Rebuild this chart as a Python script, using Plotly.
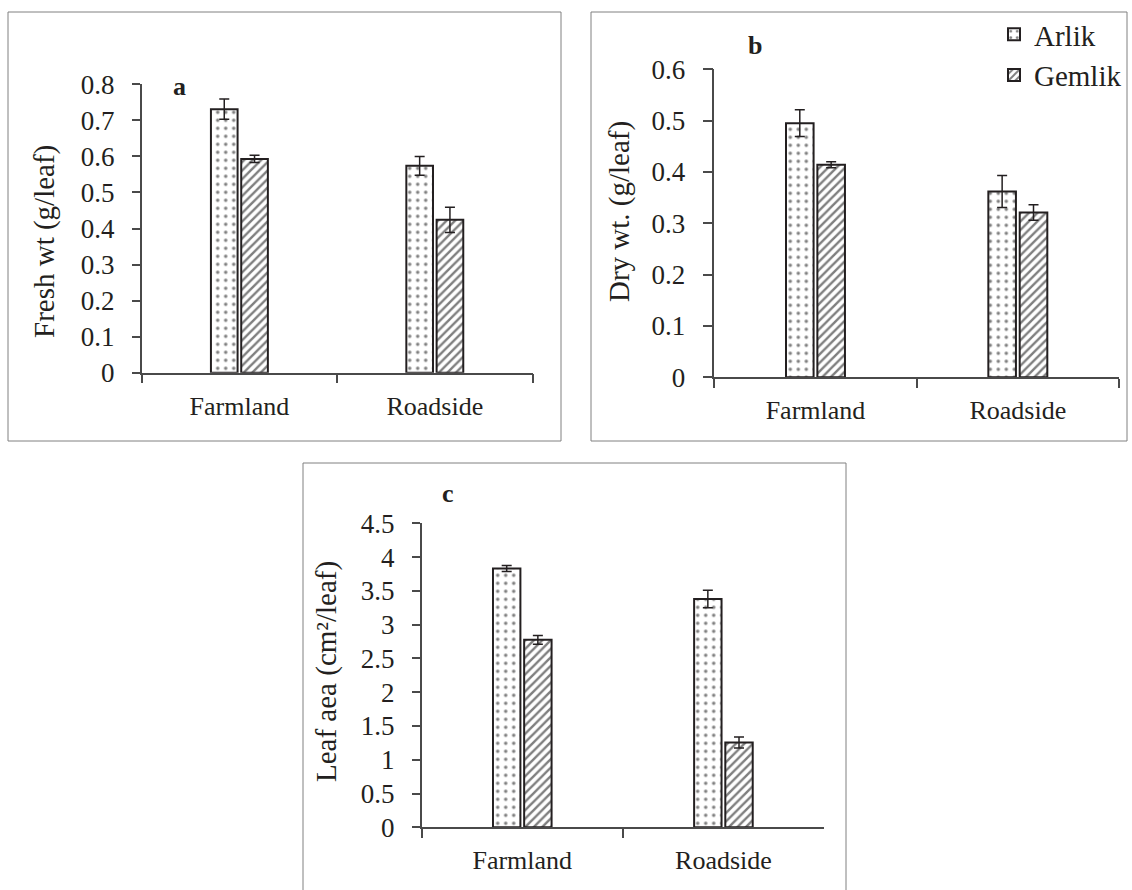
import plotly.graph_objects as go

W, H = 1132, 890

categories = ["Farmland", "Roadside"]
series_names = ["Arlik", "Gemlik"]

# Panel a: fresh weight (g/leaf)
fresh_arlik = [0.731, 0.574]
fresh_arlik_err = [0.028, 0.026]
fresh_gemlik = [0.593, 0.424]
fresh_gemlik_err = [0.010, 0.035]

# Panel b: dry weight (g/leaf)
dry_arlik = [0.495, 0.362]
dry_arlik_err = [0.026, 0.031]
dry_gemlik = [0.414, 0.321]
dry_gemlik_err = [0.006, 0.015]

# Panel c: leaf area (cm2/leaf)
area_arlik = [3.83, 3.38]
area_arlik_err = [0.045, 0.13]
area_gemlik = [2.775, 1.255]
area_gemlik_err = [0.065, 0.08]

fresh_tickvals = [0, 0.1, 0.2, 0.3, 0.4, 0.5, 0.6, 0.7, 0.8]
fresh_ticktext = ["0", "0.1", "0.2", "0.3", "0.4", "0.5", "0.6", "0.7", "0.8"]
dry_tickvals = [0, 0.1, 0.2, 0.3, 0.4, 0.5, 0.6]
dry_ticktext = ["0", "0.1", "0.2", "0.3", "0.4", "0.5", "0.6"]
area_tickvals = [0, 0.5, 1, 1.5, 2, 2.5, 3, 3.5, 4, 4.5]
area_ticktext = ["0", "0.5", "1", "1.5", "2", "2.5", "3", "3.5", "4", "4.5"]

FONT = "Liberation Serif, Times New Roman, serif"
TXT = "#231f20"
AXC = "#4a4a4a"
FS_TICK = 27
FS_CAT = 26
FS_TITLE = 29
FS_LEG = 29
FS_LET = 26


def px(x):
    return x / W


def py(y):
    return 1 - y / H


panels = [
    dict(key="", arlik=fresh_arlik, arlik_err=fresh_arlik_err, gemlik=fresh_gemlik,
         gemlik_err=fresh_gemlik_err, tv=fresh_tickvals, tt=fresh_ticktext,
         xd=(141.7, 532.5), yd=(372.7, 84.3), ticklen=8,
         title="Fresh wt (g/leaf)", tpos=(45, 242), letter="a", lpos=(179, 86),
         frame=(8, 12, 561, 441), legend=False),
    dict(key="2", arlik=dry_arlik, arlik_err=dry_arlik_err, gemlik=dry_gemlik,
         gemlik_err=dry_gemlik_err, tv=dry_tickvals, tt=dry_ticktext,
         xd=(714.3, 1119), yd=(377.3, 69.3), ticklen=10,
         title="Dry wt. (g/leaf)", tpos=(619, 212), letter="b", lpos=(755, 46),
         frame=(591, 12, 1127, 441), legend=True),
    dict(key="3", arlik=area_arlik, arlik_err=area_arlik_err, gemlik=area_gemlik,
         gemlik_err=area_gemlik_err, tv=area_tickvals, tt=area_ticktext,
         xd=(421.7, 824), yd=(827.3, 523.3), ticklen=8,
         title="Leaf aea (cm²/leaf)", tpos=(326, 672), letter="c", lpos=(448, 493),
         frame=(303, 463, 846, 900), legend=False),
]

fig = go.Figure()
annotations = []
shapes = []
layout = {}

for p in panels:
    k = p["key"]
    xa = "x" + k
    ya = "y" + k
    for name, vals, errs, shape, size, sol in [
        ("Arlik", p["arlik"], p["arlik_err"], ".", 8, 0.15),
        ("Gemlik", p["gemlik"], p["gemlik_err"], "/", 6, 0.4),
    ]:
        fig.add_trace(go.Bar(
            x=categories, y=vals, name=name, xaxis=xa, yaxis=ya,
            legendgroup=name, showlegend=p["legend"],
            marker=dict(color="white", line=dict(color=TXT, width=2),
                        pattern=dict(shape=shape, fgcolor="#000000", bgcolor="white",
                                     size=size, solidity=sol)),
            error_y=dict(type="data", array=errs, color=TXT, thickness=1.5, width=5),
        ))
    axis_common = dict(showline=True, linecolor=AXC, linewidth=1.5, ticks="outside",
                       tickcolor=AXC, tickwidth=1.5, showgrid=False, zeroline=False,
                       automargin=False)
    layout["xaxis" + k] = dict(
        axis_common, domain=[px(p["xd"][0]), px(p["xd"][1])], anchor=ya,
        type="category", tickson="boundaries", ticklen=9, ticklabelstandoff=9,
        tickfont=dict(family=FONT, size=FS_CAT, color=TXT), fixedrange=True)
    layout["yaxis" + k] = dict(
        axis_common, domain=[py(p["yd"][0]), py(p["yd"][1])], anchor=xa,
        range=[0, p["tv"][-1]], tickmode="array", tickvals=p["tv"], ticktext=p["tt"],
        ticklen=p["ticklen"], ticklabelstandoff=12,
        tickfont=dict(family=FONT, size=FS_TICK, color=TXT), fixedrange=True)
    annotations.append(dict(
        text=p["title"], x=px(p["tpos"][0]), y=py(p["tpos"][1]), xref="paper", yref="paper",
        xanchor="center", yanchor="middle", textangle=-90, showarrow=False,
        font=dict(family=FONT, size=FS_TITLE, color=TXT)))
    annotations.append(dict(
        text="<b>" + p["letter"] + "</b>", x=px(p["lpos"][0]), y=py(p["lpos"][1]),
        xref="paper", yref="paper", xanchor="center", yanchor="middle", showarrow=False,
        font=dict(family=FONT, size=FS_LET, color=TXT)))
    x0, y0, x1, y1 = p["frame"]
    shapes.append(dict(type="rect", xref="paper", yref="paper",
                       x0=px(x0), x1=px(x1), y0=py(y1), y1=py(y0),
                       line=dict(color="#808080", width=1), fillcolor="rgba(0,0,0,0)"))

fig.update_layout(
    width=W, height=H, margin=dict(l=0, r=0, t=0, b=0, autoexpand=False),
    paper_bgcolor="white", plot_bgcolor="white",
    barmode="group", bargap=0.69, bargroupgap=0.12,
    annotations=annotations, shapes=shapes,
    legend=dict(x=px(994), y=py(9), xanchor="left", yanchor="top",
                font=dict(family=FONT, size=FS_LEG, color=TXT), bgcolor="rgba(0,0,0,0)",
                itemwidth=30, traceorder="normal", tracegroupgap=0),
    showlegend=True,
    **layout,
)

fig.write_html("out.html", config={"displayModeBar": False},
               post_script="document.body.style.margin='0';document.body.style.overflow='hidden';")
